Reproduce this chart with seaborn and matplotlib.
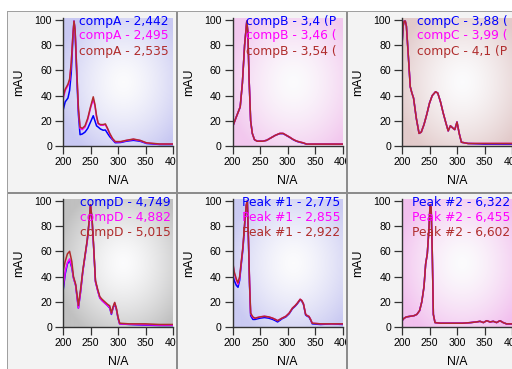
import numpy as np
import pandas as pd
import seaborn as sns
import matplotlib.pyplot as plt
from matplotlib.patches import Rectangle

# ---- data ----
# panel 1: compA
a_x = [200, 204, 209, 212, 215, 218, 220, 222, 225, 228, 231, 235, 240, 245, 250, 255, 258, 261, 264,
       268, 273, 277, 281, 285, 290, 295, 305, 315, 328, 340, 352, 376, 400]
a_blue = [28, 35, 38, 44, 58, 85, 99, 91, 55, 25, 9, 9.5, 11, 14, 19, 24, 20, 16, 15,
          13.5, 12.5, 12.7, 10, 7.4, 5, 2.6, 2.8, 3.8, 4.5, 3.8, 2, 1.2, 1.2]
a_mag = [37, 44, 48, 52, 65, 88, 99, 92, 60, 29, 14, 13, 15, 21, 30, 37, 32, 23, 17.5,
         16.5, 16.5, 17, 13.5, 9.5, 5.5, 3.3, 3.3, 4.3, 5.3, 4.3, 2.3, 1.5, 1.5]
a_red = [39, 45, 49, 53, 66, 88, 99, 92, 60, 30, 15, 14, 16, 22, 31, 39, 33, 24, 18,
         17, 17, 17.5, 14, 10, 6, 3.5, 3.5, 4.5, 5.5, 4.5, 2.5, 1.6, 1.6]
a_labels = ['compA - 2,442', 'compA - 2,495', 'compA - 2,535']

# panel 2: compB (labels are cut at the cell edge in the original)
b_x = [200, 206, 214, 218, 222, 226, 228, 230, 233, 236, 240, 245, 255, 262, 270, 278, 286, 292,
       298, 304, 310, 316, 322, 328, 335, 350, 375, 400]
b_blue = [15, 22, 31, 50, 80, 99, 90, 55, 20, 10, 5, 3.8, 3.8, 4.5, 6.5, 8.5, 9.8, 9.8,
          8.3, 6.8, 5.1, 3.8, 3.0, 2.4, 1.4, 1.4, 1.4, 1.4]
b_mag = [15, 22, 31, 50, 80, 99, 90, 55, 20, 10, 5, 3.8, 3.8, 4.5, 6.5, 8.5, 10, 10,
         8.5, 7, 5.3, 4, 3.2, 2.6, 1.5, 1.5, 1.5, 1.5]
b_red = [15, 22, 31, 50, 80, 99, 90, 55, 20, 10, 5, 3.8, 3.8, 4.5, 6.5, 8.5, 10, 10,
         8.5, 7, 5.3, 4, 3.2, 2.6, 1.5, 1.5, 1.5, 1.5]
b_labels = ['compB - 3,4 (P', 'compB - 3,46 (', 'compB - 3,54 (']

# panel 3: compC
c_x = [200, 202, 204, 206, 208, 211, 215, 218, 221, 226, 231, 235, 240, 245, 250, 255, 261, 265,
       270, 275, 280, 284, 288, 293, 296, 300, 304, 308, 320, 350, 375, 400]
c_blue = [80, 95, 99, 99, 95, 75, 47, 42, 38, 22, 10, 11, 17, 25, 34, 40, 43, 42,
          35, 26, 18, 12, 16, 14, 13, 19, 10, 3, 2, 1.5, 1.5, 1.5]
c_mag = [80, 95, 99, 99, 95, 75, 47, 42, 38, 22, 10, 11, 17, 25, 34, 40, 43, 42,
         35, 26, 18, 12, 16, 14, 13, 19, 10, 3, 2, 2, 2, 2]
c_red = [80, 95, 99, 99, 95, 75, 47, 42, 38, 22, 10, 11, 17, 25, 34, 40, 43, 42,
         35, 26, 18, 12, 16, 14, 13, 19, 10, 3, 2, 2, 2, 2]
c_labels = ['compC - 3,88 (', 'compC - 3,99 (', 'compC - 4,1 (P']

# panel 4: compD
d_x = [200, 204, 208, 212, 216, 219, 223, 226, 228, 232, 236, 240, 244, 247, 250, 253, 256, 259,
       263, 267, 271, 276, 281, 285, 288, 291, 294, 297, 300, 303, 320, 350, 375, 400]
d_blue = [28, 42, 50, 53, 47, 39, 33, 22, 15, 28, 44, 56, 68, 81, 97, 84, 61, 36,
          29, 23, 21, 19, 17, 15, 10, 15, 18.5, 14, 7, 2.5, 2, 1.5, 1.2, 1.2]
d_mag = [30, 44, 51, 54, 48, 39, 33, 22, 15, 28, 44, 56, 68, 81, 97, 84, 61, 36,
         29, 23, 21, 19, 17, 15.5, 10.5, 15.5, 19, 14.5, 7.5, 2.5, 2.2, 1.8, 1.5, 1.5]
d_red = [44, 52, 58, 60, 52, 40, 34, 24, 17, 30, 45, 57, 69, 82, 97, 85, 62, 37,
         30, 24, 22, 20, 18, 16.8, 11, 16, 19.5, 15, 8, 3, 2.5, 2.5, 2, 2]
d_labels = ['compD - 4,749', 'compD - 4,882', 'compD - 5,015']

# panel 5: Peak #1
e_x = [200, 203, 207, 210, 213, 216, 219, 222, 225, 227, 229, 231, 233, 237, 241, 250, 258, 266, 273,
       278, 282, 290, 297, 303, 309, 314, 318, 323, 326, 329, 333, 336, 339, 342, 345, 360, 380, 400]
e_blue = [42, 37, 33, 31.5, 37, 50, 62, 80, 96, 99, 68, 33, 9, 6, 6, 7, 7.5, 7, 6,
          5, 4, 6.5, 8, 10.5, 14.5, 16.5, 18.5, 21.5, 20.5, 18, 9.5, 8.5, 8, 5.5, 2.5, 2, 2.5, 2]
e_mag = [52, 43, 37, 34, 39, 51, 63, 81, 97, 100, 70, 35, 10.5, 7.5, 7, 8, 8.5, 8, 7,
         6, 5, 7, 8.5, 11, 15, 17, 19, 22, 21, 18.4, 10, 9, 8.4, 6, 3, 2.5, 2.5, 2.5]
e_red = [53, 44, 38, 35, 40, 52, 64, 82, 97, 100, 70, 35, 11, 8, 7, 8, 8.5, 8, 7,
         6, 5, 7, 8.5, 11, 15, 17, 19, 22, 21, 18.4, 10, 9, 8.4, 6, 3, 2.5, 2.5, 2.5]
e_labels = ['Peak #1 - 2,775', 'Peak #1 - 2,855', 'Peak #1 - 2,922']

# panel 6: Peak #2
f_x = [200, 204, 208, 215, 222, 227, 232, 236, 240, 243, 246, 249, 251, 253, 255, 257, 260, 270,
       290, 310, 325, 335, 342, 348, 354, 360, 366, 372, 378, 384, 390, 396, 400]
f_blue = [5, 7, 8, 8.5, 9, 10, 13, 20, 32, 50, 58, 78, 97, 95, 60, 10, 3.5, 3,
          3, 3, 3.5, 4, 4.5, 3.5, 5, 4, 4.5, 3.5, 5, 3.5, 2.5, 2.5, 2.5]
f_mag = f_blue
f_red = [5, 7, 8, 8.5, 9, 10, 13, 20, 32, 50, 58, 78, 97, 95, 60, 10, 3.5, 3,
         3, 3, 3.5, 4, 4.5, 3.5, 5, 4, 4.5, 3.5, 5, 3.5, 2.5, 2.5, 2.5]
f_labels = ['Peak #2 - 6,322', 'Peak #2 - 6,455', 'Peak #2 - 6,602']

x_ticks = [200, 250, 300, 350, 400]
y_ticks = [0, 20, 40, 60, 80, 100]

line_colors = ['#0000ff', '#ff00ff', '#b02c2c']
text_colors = ['#0000ff', '#ff00ff', '#b02c2c']
bg_edges = [(200, 200, 242), (242, 200, 238), (226, 202, 202),
            (192, 192, 192), (202, 202, 242), (242, 192, 238)]
text_left = [16, 14, 15, 17, 10, 10]  # px from axes left

panels = [(a_x, [a_blue, a_mag, a_red], a_labels),
          (b_x, [b_blue, b_mag, b_red], b_labels),
          (c_x, [c_blue, c_mag, c_red], c_labels),
          (d_x, [d_blue, d_mag, d_red], d_labels),
          (e_x, [e_blue, e_mag, e_red], e_labels),
          (f_x, [f_blue, f_mag, f_red], f_labels)]

W, H = 512, 369
plt.rcParams['font.family'] = ['Liberation Sans', 'DejaVu Sans']
fig = plt.figure(figsize=(W / 100, H / 100), dpi=100)
fig.patch.set_facecolor('white')

cell_bg = '#f3f3f3'
divider = '#8c8c8c'
frame = '#a0a0a0'


def box(x0, y0, x1, y1, color, z):
    fig.add_artist(Rectangle((x0 / W, 1 - y1 / H), (x1 - x0) / W, (y1 - y0) / H,
                             transform=fig.transFigure, facecolor=color, edgecolor='none',
                             linewidth=0, antialiased=False, zorder=z))


# cell backgrounds drawn column by column so each column hides the overflow of the previous one
for c in range(3):
    z = 2 * c + 1
    if c == 0:
        box(7, 11, W, H, frame, z)
        box(8, 12, W, H, cell_bg, z)
    else:
        x0 = 176 + 170 * (c - 1)
        box(x0, 11, W, H, divider, z)
        box(x0 + 2, 12, W, H, cell_bg, z)
    box(7, 11, W, 12, frame, z)
    box(8, 192, W, 194, divider, z)

# plot area gradient (white centre fading to the panel colour at the edges)
gy, gx = np.mgrid[0:1:64j, 0:1:64j]
t = np.clip(np.sqrt(((gx - 0.55) / 0.62) ** 2 + ((gy - 0.5) / 0.64) ** 2), 0, 1) ** 1.5

for i, (xs, ys, labels) in enumerate(panels):
    r, c = divmod(i, 3)
    left = 63 + 169.5 * c
    top = 18 + 181 * r
    ax = fig.add_axes([left / W, 1 - (top + 128) / H, 110 / W, 128 / H])
    ax.set_zorder(2 * c + 2)
    ax.patch.set_visible(False)

    edge = np.array(bg_edges[i]) / 255.0
    white = np.array([0.985, 0.985, 0.99])
    img = white + (edge - white) * t[..., None]
    ax.imshow(img, extent=[200, 400, 0, 101.5], aspect='auto', origin='lower',
              interpolation='bilinear', zorder=0)

    df = pd.DataFrame({'x': xs * 3,
                       'y': ys[0] + ys[1] + ys[2],
                       's': [labels[0]] * len(xs) + [labels[1]] * len(xs) + [labels[2]] * len(xs)})
    sns.lineplot(data=df, x='x', y='y', hue='s', palette=line_colors, estimator=None,
                 sort=False, linewidth=1.1, legend=False, ax=ax)

    ax.set_xlim(200, 400)
    ax.set_ylim(0, 101.5)
    ax.set_xticks(x_ticks)
    ax.set_yticks(y_ticks)
    ax.tick_params(axis='both', direction='out', length=5.5, width=0.9, color='#333333',
                   labelsize=7.6, pad=2.5)
    for s in ['top', 'right']:
        ax.spines[s].set_visible(False)
    for s in ['left', 'bottom']:
        ax.spines[s].set_color('#333333')
        ax.spines[s].set_linewidth(1.0)

    ax.set_xlabel('N/A', fontsize=8.8)
    ax.set_ylabel('mAU', fontsize=8.8)
    ax.xaxis.set_label_coords(0.5, -0.225)
    ax.yaxis.set_label_coords(-0.34, 0.5)

    for k in range(3):
        ax.text(text_left[i] / 110, 1 - (3 + 15 * k) / 128, labels[k], color=text_colors[k],
                fontsize=8.8, family='DejaVu Sans', ha='left', va='center',
                transform=ax.transAxes)

fig.savefig('out.png', dpi=100)
